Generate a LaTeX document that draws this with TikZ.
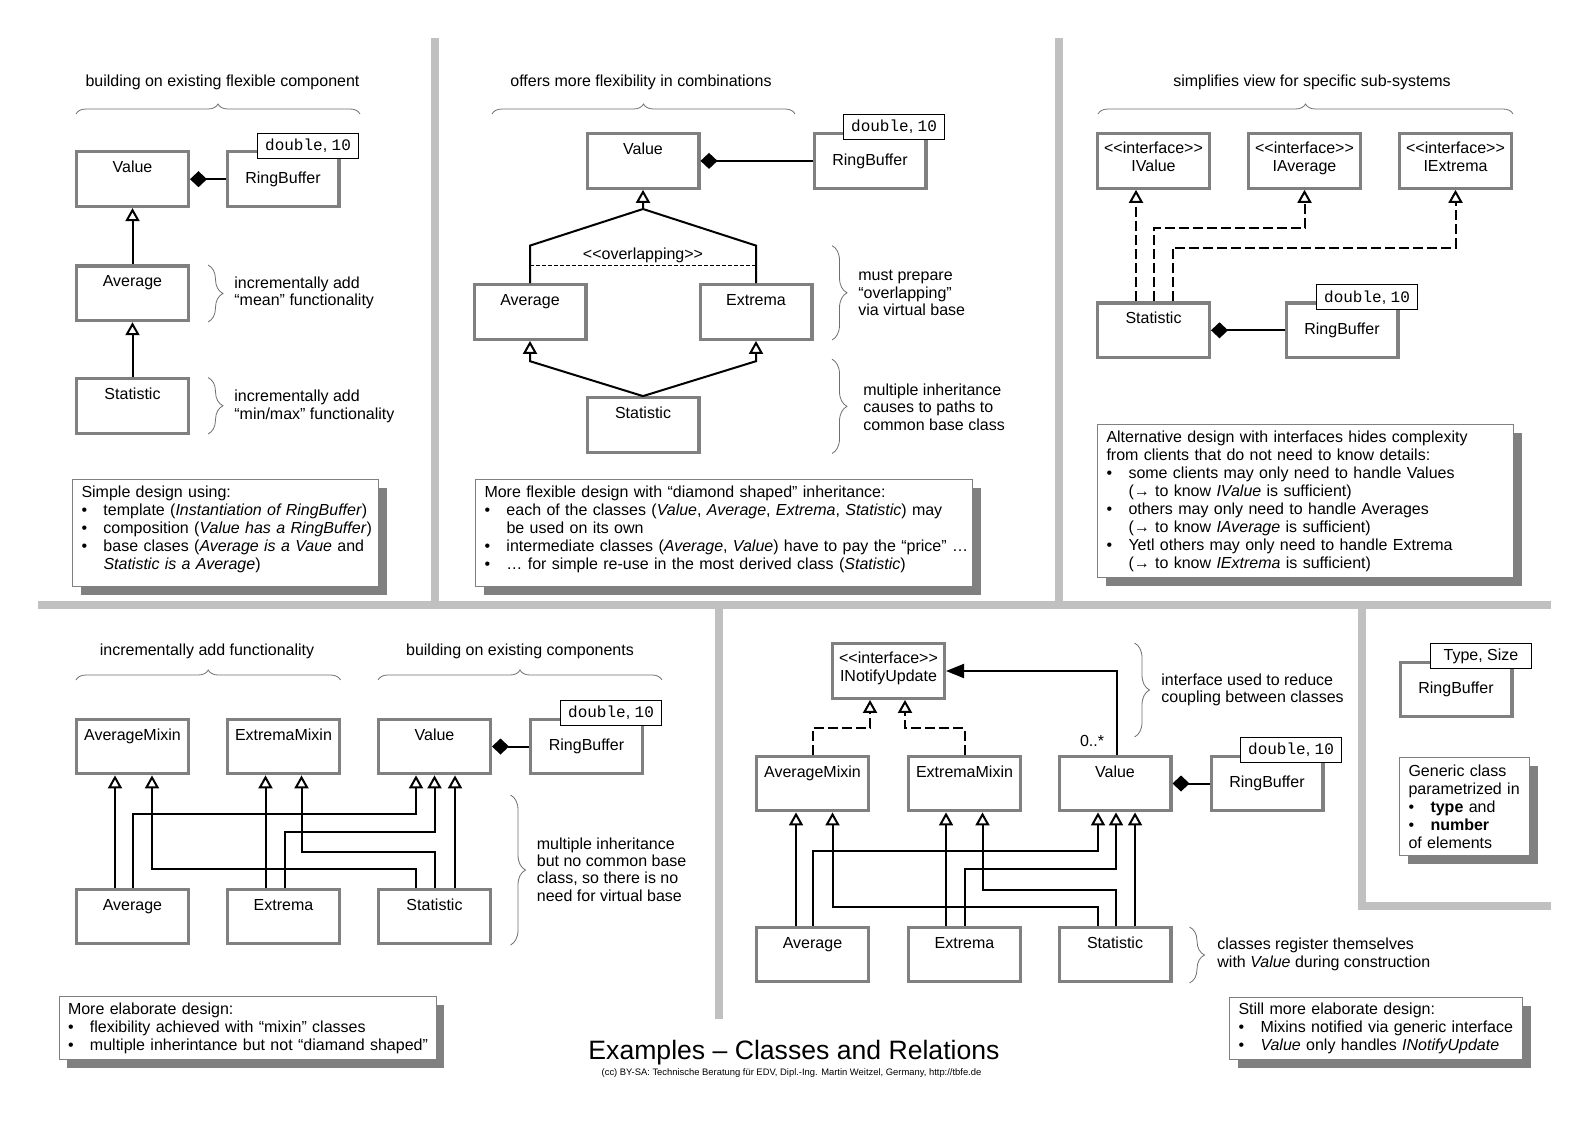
\documentclass[tikz,border=0pt]{standalone}
\usepackage{fontspec}
\setmainfont{Liberation Sans}
\setmonofont{Liberation Mono}
\usepackage{tikz}
\usetikzlibrary{arrows.meta,decorations.pathreplacing,shadows}
\definecolor{boxgray}{HTML}{808080}
\definecolor{divgray}{HTML}{C0C0C0}
\definecolor{shadegray}{HTML}{808080}
\definecolor{bracegray}{HTML}{6E6E6E}
\newcommand\bul{\makebox[11pt][l]{\textbullet}}
\newcommand\ind{\hspace*{11pt}}
\newcommand\stereo[1]{<{}<#1>{}>}
\newcommand\dbl{\texttt{double}, \texttt{10}}
\newcommand\notepad{\rule[-6pt]{0pt}{6pt}}

\begin{document}
\begin{tikzpicture}[x=0.5pt, y=-0.5pt, font=\fontsize{8}{9}\selectfont,
    box/.style={draw=boxgray, line width=1.6pt, fill=white, minimum width=55.9pt, minimum height=27.3pt, inner sep=0pt},
    cls/.style={box, text height=10.4pt, text depth=16.9pt},
    ifc/.style={box, align=center, text height=18.9pt, text depth=8.4pt},
    tpl/.style={draw=black, line width=0.5pt, fill=white, minimum width=50.5pt, minimum height=12.5pt, inner sep=0pt},
    note/.style={draw=boxgray, line width=0.5pt, fill=white, anchor=north west, align=left, inner xsep=4.5pt, inner ysep=0pt,
      general shadow={fill=shadegray, draw=none, shadow xshift=4pt, shadow yshift=-4pt}},
    side/.style={anchor=west, align=left, inner sep=0pt, font=\fontsize{8}{8.7}\selectfont},
    hdr/.style={inner sep=0pt},
    line/.style={line width=1pt},
    gen/.style={line, -{Triangle[open, length=6.5pt, width=7pt]}},
    real/.style={gen, dash pattern=on 5pt off 2pt},
    comp/.style={line, {Diamond[length=8.5pt, width=8pt]}-},
    assoc/.style={line, -{Triangle[length=9pt, width=7pt]}},
    brc/.style={decorate, decoration={brace, amplitude=#1}, draw=bracegray, line width=0.4pt},
    brc/.default=5pt,
    divider/.style={draw=divgray, line width=4pt}]
\useasboundingbox (0,0) rectangle (1588,1123);

% panel dividers
\draw[divider] (435,38) -- (435,601);
\draw[divider] (1059,38) -- (1059,601);
\draw[divider] (38,605) -- (1551,605);
\draw[divider] (718.5,609) -- (718.5,1019);
\draw[divider] (1362,609) |- (1551,906);

% panel 1: single inheritance
\node[hdr] (head1) at (222.5,82.5) {building on existing flexible component};
\draw[brc] (76,114) -- (360,114);
\node[cls] (val1) at (132.5,179.2) {Value};
\node[box] (rb1) at (283,179.2) {RingBuffer};
\node[tpl] (tpl1) at (308,146.2) {\dbl};
\node[cls] (ave1) at (132.5,293.3) {Average};
\node[cls] (sta1) at (132.5,405.8) {Statistic};
\draw[comp] (val1) -- (rb1);
\draw[gen] (ave1) -- (val1);
\draw[gen] (sta1) -- (ave1);
\draw[brc=7.5pt] (208,265) -- (208,322);
\draw[brc=7.5pt] (208,377.5) -- (208,434);
\node[side] (why1a) at (234,292.8) {incrementally add\\“mean” functionality};
\node[side] (why1b) at (234,406.3) {incrementally add\\“min/max” functionality};
\node[note, text width=144pt, minimum height=53.7pt] (note1) at (72,479) {\mbox{Simple design using:}\\
  \mbox{\bul template (\emph{Instantiation of RingBuffer})}\\
  \mbox{\bul composition (\emph{Value has a RingBuffer})}\\
  \mbox{\bul base clases (\emph{Average is a Vaue} and}\\
  \mbox{\ind\emph{Statistic is a Average})\notepad}};

% panel 2: diamond shaped inheritance
\node[hdr] (head2) at (641,82.5) {offers more flexibility in combinations};
\draw[brc] (492,114) -- (795,114);
\node[cls] (val2) at (643,160.9) {Value};
\node[box] (rb2) at (870,160.9) {RingBuffer};
\node[tpl] (tpl2) at (894,127) {\dbl};
\node[cls] (ave2) at (530,312) {Average};
\node[cls] (ext2) at (756,312) {Extrema};
\node[cls] (sta2) at (643,425) {Statistic};
\draw[comp] (val2) -- (rb2);
\draw[gen] (ave2.north) -- (530,245.6) -- (643,209) -- (val2.south);
\draw[line] (ext2.north) -- (756,245.6) -- (643,209);
\draw[line width=0.5pt, dash pattern=on 2pt off 1pt] (530,265) -- (756,265);
\node[hdr] (ovl) at (643,255.7) {\stereo{overlapping}};
\draw[gen] (sta2.north) -- (530,361.2) -- (ave2.south);
\draw[gen] (sta2.north) -- (756,361.2) -- (ext2.south);
\draw[brc=7.5pt] (832,245.6) -- (832,340);
\draw[brc=7.5pt] (832,359.2) -- (832,453.5);
\node[side] (why2a) at (858,293.3) {must prepare\\“overlapping”\\via virtual base};
\node[side] (why2b) at (863,406.9) {multiple inheritance\\causes to paths to\\common base class};
\node[note, text width=239.5pt, minimum height=53.7pt] (note2) at (475,479) {\mbox{More flexible design with “diamond shaped” inheritance:}\\
  \mbox{\bul each of the classes (\emph{Value}, \emph{Average}, \emph{Extrema}, \emph{Statistic}) may}\\
  \mbox{\ind be used on its own}\\
  \mbox{\bul intermediate classes (\emph{Average}, \emph{Value}) have to pay the “price” …}\\
  \mbox{\bul … for simple re-use in the most derived class (\emph{Statistic})\notepad}};

% panel 3: interfaces
\node[hdr] (head3) at (1312,82.5) {simplifies view for specific sub-systems};
\draw[brc] (1098,114) -- (1513,114);
\node[ifc] (ival) at (1153.5,160.9) {\stereo{interface}\\IValue};
\node[ifc] (iave) at (1304.5,160.9) {\stereo{interface}\\IAverage};
\node[ifc] (iext) at (1455.5,160.9) {\stereo{interface}\\IExtrema};
\node[cls] (sta3) at (1153.5,330.3) {Statistic};
\node[box] (rb3) at (1342,330.3) {RingBuffer};
\node[tpl] (tpl3) at (1367,297.3) {\dbl};
\draw[comp] (sta3) -- (rb3);
\draw[real] ([xshift=-8.75pt]sta3.north) -- ([xshift=-8.75pt]ival.south);
\draw[real] (sta3.north) |- (1304.5,228.4) -- (iave.south);
\draw[real] ([xshift=9.75pt]sta3.north) |- (1455.5,247.6) -- (iext.south);
\node[note, text width=199pt, minimum height=76.6pt] (note3) at (1097,424) {\mbox{Alternative design with interfaces hides complexity}\\
  \mbox{from clients that do not need to know details:}\\
  \mbox{\bul some clients may only need to handle Values}\\
  \mbox{\ind(→ to know \emph{IValue} is sufficient)}\\
  \mbox{\bul others may only need to handle Averages}\\
  \mbox{\ind(→ to know \emph{IAverage} is sufficient)}\\
  \mbox{\bul Yetl others may only need to handle Extrema}\\
  \mbox{\ind(→ to know \emph{IExtrema} is sufficient)}};

% panel 4: mixins
\node[hdr] (head4a) at (207,651) {incrementally add functionality};
\draw[brc] (76,680) -- (340.5,680);
\node[hdr] (head4b) at (520,651) {building on existing components};
\draw[brc] (378,680) -- (662,680);
\node[cls] (am4) at (132.5,746.5) {AverageMixin};
\node[cls] (em4) at (283.5,746.5) {ExtremaMixin};
\node[cls] (va4) at (434.5,746.5) {Value};
\node[box] (rb4) at (586.5,746.5) {RingBuffer};
\node[tpl] (tpl4) at (611,712.5) {\dbl};
\node[cls] (av4) at (132.5,916.5) {Average};
\node[cls] (ex4) at (283.5,916.5) {Extrema};
\node[cls] (st4) at (434.5,916.5) {Statistic};
\draw[comp] (va4) -- (rb4);
\draw[gen] ([xshift=-8.75pt]av4.north) -- ([xshift=-8.75pt]am4.south);
\draw[gen] (av4.north) |- (416,814) -- ([xshift=-9.25pt]va4.south);
\draw[gen] ([xshift=-9pt]ex4.north) -- ([xshift=-9pt]em4.south);
\draw[gen] ([xshift=0.75pt]ex4.north) |- (434.5,832) -- (va4.south);
\draw[gen] (st4.north) |- (301.5,852) -- ([xshift=9pt]em4.south);
\draw[gen] ([xshift=-9.25pt]st4.north) |- (152,869) -- ([xshift=9.75pt]am4.south);
\draw[gen] ([xshift=10.25pt]st4.north) -- ([xshift=10.25pt]va4.south);
\draw[brc=7.5pt] (510.5,795) -- (510.5,945);
\node[side] (why4) at (536.5,869.5) {multiple inheritance\\but no common base\\class, so there is no\\need for virtual base};
\node[note, text width=179.5pt, minimum height=31.5pt] (note4) at (58.5,996) {\mbox{More elaborate design:}\\
  \mbox{\bul flexibility achieved with “mixin” classes}\\
  \mbox{\bul multiple inherintance but not “diamand shaped”}};

% panel 5: mixins notified via interface
\node[ifc] (inu) at (888.5,671) {\stereo{interface}\\INotifyUpdate};
\node[cls] (am5) at (812.5,783.5) {AverageMixin};
\node[cls] (em5) at (964.5,783.5) {ExtremaMixin};
\node[cls] (va5) at (1115,783.5) {Value};
\node[box] (rb5) at (1267,783.5) {RingBuffer};
\node[tpl] (tpl5) at (1291,750) {\dbl};
\node[cls] (av5) at (812.5,954.5) {Average};
\node[cls] (ex5) at (964.5,954.5) {Extrema};
\node[cls] (st5) at (1115,954.5) {Statistic};
\draw[comp] (va5) -- (rb5);
\draw[real] (am5.north) |- (870,728) -- ([xshift=-9.25pt]inu.south);
\draw[real] (em5.north) |- (905,728) -- ([xshift=8.25pt]inu.south);
\draw[assoc] ([xshift=1pt]va5.north) |- (inu.east);
\node[hdr] (mult5) at (1092,741) {0..*};
\draw[gen] ([xshift=-8.25pt]av5.north) -- ([xshift=-8.25pt]am5.south);
\draw[gen] (av5.north) |- (1098,851) -- ([xshift=-8.5pt]va5.south);
\draw[gen] ([xshift=-9.25pt]ex5.north) -- ([xshift=-9.25pt]em5.south);
\draw[gen] (ex5.north) |- (1116,869) -- ([xshift=0.5pt]va5.south);
\draw[gen] ([xshift=0.5pt]st5.north) |- (982.5,890) -- ([xshift=9pt]em5.south);
\draw[gen] ([xshift=-8.5pt]st5.north) |- (832.5,907) -- ([xshift=10pt]am5.south);
\draw[gen] ([xshift=10pt]st5.north) -- ([xshift=10pt]va5.south);
\draw[brc=7.5pt] (1134.5,643) -- (1134.5,737);
\draw[brc=7.5pt] (1189.5,927) -- (1189.5,983);
\node[side] (why5a) at (1161,690) {interface used to reduce\\coupling between classes};
\node[side] (why5b) at (1217,954.5) {classes register themselves\\with \emph{Value} during construction};
\node[note, text width=137.5pt, minimum height=31pt] (note5) at (1229,997) {\mbox{Still more elaborate design:}\\
  \mbox{\bul Mixins notified via generic interface}\\
  \mbox{\bul \emph{Value} only handles \emph{INotifyUpdate}}};

% panel 6: generic class
\node[box] (rb6) at (1456,689.5) {RingBuffer};
\node[tpl] (tpl6) at (1481,656) {Type, Size};
\node[note, text width=56pt, minimum height=49pt] (note6) at (1399,757) {\mbox{Generic class}\\
  \mbox{parametrized in}\\
  \mbox{\bul\textbf{type} and}\\
  \mbox{\bul\textbf{number}}\\
  \mbox{of elements}};

% title
\node[hdr, font=\fontsize{13.3}{15}\selectfont] (title) at (794,1053) {Examples – Classes and Relations};
\node[hdr, font=\fontsize{4.7}{5.5}\selectfont] (credit) at (791.5,1073) {(cc) BY-SA: Technische Beratung für EDV, Dipl.-Ing. Martin Weitzel, Germany, http://tbfe.de};
\end{tikzpicture}
\end{document}
